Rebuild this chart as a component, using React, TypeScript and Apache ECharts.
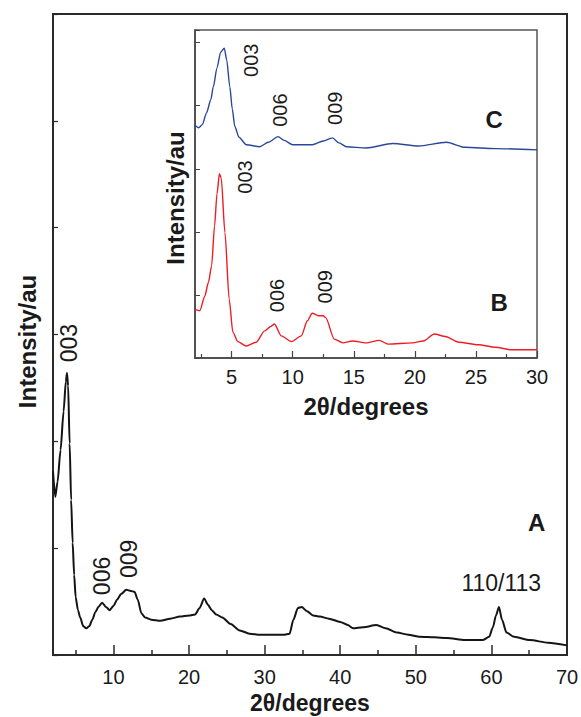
import React, { useEffect, useRef } from "react";
import * as echarts from "echarts";

// Main pattern A: [2θ, intensity]
const seriesA: number[][] = [
  [2.0, 1.72], [2.3, 1.48], [2.6, 1.62], [3.0, 1.92], [3.4, 2.28], [3.7, 2.56], [3.85, 2.64],
  [4.0, 2.52], [4.2, 1.98], [4.4, 1.45], [4.6, 1.05], [4.8, 0.75], [5.0, 0.54], [5.3, 0.42],
  [5.6, 0.35], [6.0, 0.27], [6.4, 0.25], [6.8, 0.27], [7.2, 0.33], [7.6, 0.4], [8.0, 0.45],
  [8.5, 0.49], [9.0, 0.45], [9.5, 0.42], [10.0, 0.46], [10.5, 0.52], [11.0, 0.57], [11.7, 0.61],
  [12.3, 0.6], [12.8, 0.59], [13.2, 0.52], [13.7, 0.39], [14.2, 0.35], [15.0, 0.33], [16.2, 0.32],
  [17.5, 0.34], [18.8, 0.36], [20.0, 0.37], [20.8, 0.38], [21.4, 0.44], [22.0, 0.53], [22.5, 0.47],
  [23.0, 0.42], [23.6, 0.38], [24.4, 0.35], [25.5, 0.29], [26.7, 0.23], [28.0, 0.2], [29.4, 0.19],
  [31.0, 0.19], [32.5, 0.19], [33.3, 0.2], [33.8, 0.33], [34.4, 0.44], [34.9, 0.45], [35.6, 0.41],
  [36.4, 0.37], [37.3, 0.36], [38.5, 0.34], [40.0, 0.31], [41.0, 0.28], [41.7, 0.25], [43.0, 0.26],
  [44.8, 0.28], [46.0, 0.25], [47.5, 0.21], [49.0, 0.19], [50.5, 0.17], [52.5, 0.165], [54.1, 0.16],
  [56.5, 0.14], [58.9, 0.14], [59.7, 0.17], [60.2, 0.26], [60.6, 0.37], [61.0, 0.45], [61.4, 0.33],
  [62.0, 0.21], [63.0, 0.17], [65.1, 0.14], [67.5, 0.115], [70.0, 0.09],
];

// Inset pattern C (blue)
const seriesC: number[][] = [
  [2.0, 3.69], [2.3, 3.65], [2.6, 3.7], [2.95, 3.89], [3.3, 4.1], [3.5, 4.3], [3.8, 4.6],
  [4.1, 4.85], [4.4, 4.91], [4.6, 4.72], [4.85, 4.3], [5.05, 3.95], [5.26, 3.67], [5.6, 3.5],
  [6.2, 3.38], [7.3, 3.35], [8.0, 3.42], [8.8, 3.51], [9.3, 3.45], [10.0, 3.38], [11.6, 3.38],
  [12.5, 3.44], [13.25, 3.49], [13.8, 3.41], [14.4, 3.35], [16.0, 3.33], [18.2, 3.4], [20.3, 3.36],
  [22.6, 3.42], [24.1, 3.34], [26.6, 3.32], [30.0, 3.3],
];

// Inset pattern B (red)
const seriesB: number[][] = [
  [2.0, 0.77], [2.4, 0.75], [2.8, 0.98], [3.1, 1.2], [3.36, 1.46], [3.6, 2.09], [3.8, 2.6],
  [4.0, 2.92], [4.15, 2.85], [4.45, 1.99], [4.8, 0.93], [5.1, 0.41], [5.5, 0.26], [6.2, 0.19],
  [7.0, 0.25], [7.7, 0.43], [8.2, 0.5], [8.5, 0.54], [9.07, 0.35], [9.9, 0.26], [10.7, 0.35],
  [11.2, 0.59], [11.6, 0.71], [12.1, 0.67], [12.5, 0.67], [12.7, 0.64], [13.4, 0.3], [14.1, 0.24],
  [14.9, 0.27], [16.0, 0.24], [17.1, 0.28], [17.8, 0.22], [19.8, 0.24], [20.7, 0.27], [21.6, 0.38],
  [22.5, 0.34], [23.6, 0.25], [25.2, 0.21], [26.6, 0.17], [27.9, 0.13], [30.0, 0.13],
];

// Tick values
const mainMajorTicks = [10, 20, 30, 40, 50, 60, 70];
const mainMinorTicks = [5, 15, 25, 35, 45, 55, 65];
const insetMajorTicks = [5, 10, 15, 20, 25, 30];
const insetMinorTicks = [2.5, 7.5, 12.5, 17.5, 22.5, 27.5];

// Annotations anchored in data coordinates: [2θ, intensity, text]
const mainPeakLabels: [number, number, string][] = [
  [4.1, 2.92, "003"],
  [8.5, 0.74, "006"],
  [12.05, 0.9, "009"],
];
const mainFlatLabels: [number, number, string][] = [[61.3, 0.67, "110/113"]];
const mainCurveNames: [number, number, string][] = [[66.0, 1.24, "A"]];
const insetPeakLabels: [number, number, string][] = [
  [6.55, 4.72, "003"],
  [8.96, 3.93, "006"],
  [13.47, 3.96, "009"],
  [6.07, 2.87, "003"],
  [8.72, 0.99, "006"],
  [12.65, 1.13, "009"],
];
const insetCurveNames: [number, number, string][] = [
  [26.5, 3.78, "C"],
  [26.9, 0.88, "B"],
];

const FONT = "'Liberation Sans', Arial, Helvetica, sans-serif";
const INK = "#1a1a1a";

function labelSeries(
  data: [number, number, string][],
  xi: number,
  yi: number,
  rotate: number,
  size: number,
  bold: boolean
) {
  return {
    type: "scatter",
    xAxisIndex: xi,
    yAxisIndex: yi,
    symbolSize: 0,
    silent: true,
    z: 10,
    itemStyle: { opacity: 1 },
    data: data.map((d) => ({ value: [d[0], d[1]], name: d[2] })),
    label: {
      show: true,
      position: "inside",
      formatter: (p: any) => p.name,
      rotate,
      fontSize: size,
      fontWeight: bold ? "bold" : "normal",
      fontFamily: FONT,
      color: INK,
      opacity: 1,
    },
  };
}

export default function App() {
  const ref = useRef<HTMLDivElement>(null);
  useEffect(() => {
    if (!ref.current) return;
    const chart = echarts.init(ref.current, undefined, { renderer: "svg" });
    const axisName = { fontSize: 24, fontWeight: "bold", fontFamily: FONT, color: INK };
    const tickLabel = { fontSize: 20, fontFamily: FONT, color: INK };
    chart.setOption({
      animation: false,
      backgroundColor: "#fff",
      grid: [
        {
          left: 53, top: 14, right: 14, bottom: 62, show: true, borderColor: "#2a2a2a", borderWidth: 2,
          outerBoundsMode: "none", containLabel: false,
        },
        {
          left: 195, top: 30, width: 342, height: 328, show: true, borderColor: "#555", borderWidth: 1.5,
          backgroundColor: "#fff", outerBoundsMode: "none", containLabel: false,
        },
      ],
      xAxis: [
        {
          gridIndex: 0, type: "value", min: 2, max: 70, position: "bottom",
          axisLine: { lineStyle: { color: "#2a2a2a", width: 2 } },
          axisTick: { inside: true, length: 10, customValues: mainMajorTicks, lineStyle: { color: "#2a2a2a", width: 1.5 } },
          axisLabel: { customValues: mainMajorTicks, margin: 12, ...tickLabel },
          splitLine: { show: false },
          name: "2θ/degrees", nameLocation: "middle", nameGap: 36,
          nameTextStyle: { ...axisName, fontSize: 23 },
        },
        {
          gridIndex: 0, type: "value", min: 2, max: 70, position: "bottom",
          axisLine: { show: false },
          axisTick: { inside: true, length: 5, customValues: mainMinorTicks, lineStyle: { color: "#2a2a2a", width: 1.5 } },
          axisLabel: { show: false },
          splitLine: { show: false },
        },
        {
          gridIndex: 1, type: "value", min: 2, max: 30, position: "bottom",
          axisLine: { lineStyle: { color: "#444", width: 1.5 } },
          axisTick: { inside: true, length: 7, customValues: insetMajorTicks, lineStyle: { color: "#444", width: 1.2 } },
          axisLabel: { customValues: insetMajorTicks, margin: 9, ...tickLabel },
          splitLine: { show: false },
          name: "2θ/degrees", nameLocation: "middle", nameGap: 36, nameTextStyle: axisName,
        },
        {
          gridIndex: 1, type: "value", min: 2, max: 30, position: "bottom",
          axisLine: { show: false },
          axisTick: { inside: true, length: 4, customValues: insetMinorTicks, lineStyle: { color: "#444", width: 1.2 } },
          axisLabel: { show: false },
          splitLine: { show: false },
        },
      ],
      yAxis: [
        {
          gridIndex: 0, type: "value", min: 0, max: 6, interval: 1, position: "left",
          axisLine: { show: true, lineStyle: { color: "#2a2a2a", width: 2 } },
          axisTick: { show: true, inside: true, length: 5, lineStyle: { color: "#2a2a2a", width: 1.2 } },
          axisLabel: { show: false },
          splitLine: { show: false },
          name: "Intensity/au", nameLocation: "middle", nameGap: 14,
          nameTextStyle: { ...axisName, padding: [0, 14, 0, 0] },
        },
        {
          gridIndex: 1, type: "value", min: 0, max: 5.2, interval: 1, position: "left",
          axisLine: { show: true, lineStyle: { color: "#444", width: 1.5 } },
          axisTick: { show: true, inside: true, length: 5, lineStyle: { color: "#444", width: 1 } },
          axisLabel: { show: false },
          splitLine: { show: false },
          name: "Intensity/au", nameLocation: "middle", nameGap: 8,
          nameTextStyle: { ...axisName, padding: [0, 8, 0, 0] },
        },
      ],
      series: [
        {
          type: "line", xAxisIndex: 0, yAxisIndex: 0, data: seriesA, showSymbol: false, silent: true,
          smooth: 0.25, smoothMonotone: "x",
          lineStyle: { color: "#141414", width: 2 },
        },
        {
          type: "line", xAxisIndex: 2, yAxisIndex: 1, data: seriesC, showSymbol: false, silent: true,
          smooth: 0.25, smoothMonotone: "x",
          lineStyle: { color: "#2b479b", width: 1.4 },
        },
        {
          type: "line", xAxisIndex: 2, yAxisIndex: 1, data: seriesB, showSymbol: false, silent: true,
          smooth: 0.25, smoothMonotone: "x",
          lineStyle: { color: "#ee1c25", width: 1.4 },
        },
        labelSeries(mainPeakLabels, 0, 0, 90, 23, false),
        labelSeries(mainFlatLabels, 0, 0, 0, 23, false),
        labelSeries(mainCurveNames, 0, 0, 0, 24, true),
        labelSeries(insetPeakLabels, 2, 1, 90, 20, false),
        labelSeries(insetCurveNames, 2, 1, 0, 24, true),
      ],
    });
    return () => chart.dispose();
  }, []);
  return (
    <div
      ref={ref}
      style={{ position: "fixed", left: 0, top: 0, width: 581, height: 717, background: "#fff" }}
    />
  );
}
